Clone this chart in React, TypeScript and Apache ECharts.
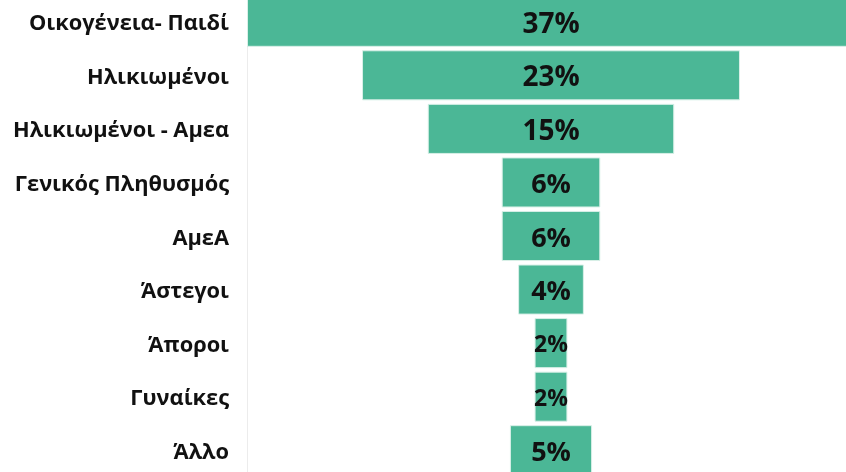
import React, { useEffect, useRef } from "react";
import * as echarts from "echarts";

const categories = [
  "Οικογένεια- Παιδί",
  "Ηλικιωμένοι",
  "Ηλικιωμένοι - Αμεα",
  "Γενικός Πληθυσμός",
  "ΑμεΑ",
  "Άστεγοι",
  "Άποροι",
  "Γυναίκες",
  "Άλλο",
];
const values = [37, 23, 15, 6, 6, 4, 2, 2, 5];
const maxValue = 37;

export default function App() {
  const ref = useRef<HTMLDivElement>(null);
  useEffect(() => {
    if (!ref.current) return;
    const chart = echarts.init(ref.current, undefined, { renderer: "svg" });
    const offsets = values.map((v) => (maxValue - v) / 2);
    const labelSize = (v: number) => (v >= 10 ? 28 : v >= 4 ? 27 : 23);
    chart.setOption({
      animation: false,
      grid: { left: 247, right: 0, top: 0, bottom: 0, containLabel: false },
      xAxis: {
        type: "value",
        min: 0,
        max: maxValue,
        show: false,
      },
      yAxis: {
        type: "category",
        data: categories,
        inverse: true,
        axisLine: { show: true, lineStyle: { color: "#ececec", width: 1 } },
        axisTick: { show: false },
        axisLabel: {
          margin: 18,
          color: "#111",
          fontFamily: "Open Sans",
          fontWeight: "bold",
          fontSize: 21.8,
        },
      },
      series: [
        {
          type: "bar",
          stack: "f",
          data: offsets,
          itemStyle: { color: "transparent" },
          silent: true,
          barCategoryGap: "6.5%",
        },
        {
          type: "bar",
          stack: "f",
          data: values.map((v) => ({
            value: v,
            label: { fontSize: labelSize(v) },
          })),
          barCategoryGap: "6.5%",
          itemStyle: { color: "#4bb796", borderColor: "#d9f0e8", borderWidth: 1 },
          label: {
            show: true,
            position: "inside",
            formatter: (p: any) => p.value + "%",
            color: "#111",
            fontFamily: "Open Sans",
            fontWeight: "bold",
            fontSize: 28,
          },
        },
      ],
    });
    return () => chart.dispose();
  }, []);
  return (
    <div style={{ position: "fixed", left: 0, top: 0, width: 846, height: 472, overflow: "hidden" }}>
      <div ref={ref} style={{ width: 855, height: 482, position: "absolute", left: 0, top: -5 }} />
    </div>
  );
}
